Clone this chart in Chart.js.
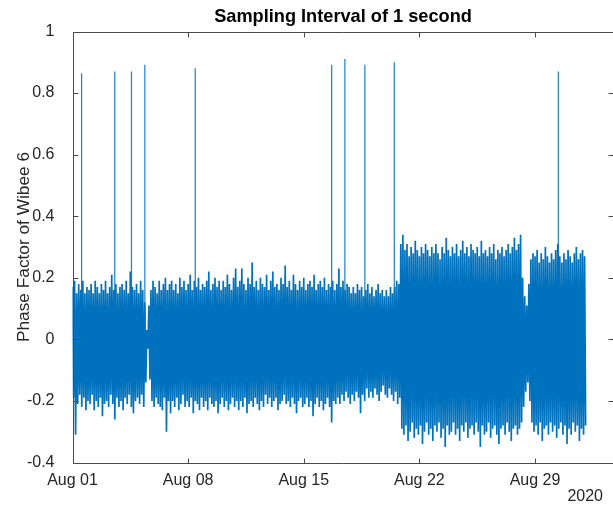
<!DOCTYPE html>
<html>
<head>
<meta charset="utf-8">
<script src="https://cdn.jsdelivr.net/npm/chart.js@4.4.1/dist/chart.umd.min.js"></script>
<style>
html, body { margin: 0; padding: 0; background: #fff; }
canvas { display: block; }
</style>
</head>
<body>
<canvas id="phaseChart" width="613" height="513"></canvas>
<script>
// envelope of the signal in 3-hour bins, starting Aug 01 00:00 (one row per day)
var binHours = 3;
var upperVals = [
  0.17, 0.19, 0.15, 0.18, 0.16, 0.19, 0.15, 0.17,
  0.16, 0.18, 0.15, 0.19, 0.17, 0.15, 0.18, 0.16,
  0.19, 0.15, 0.17, 0.21, 0.16, 0.18, 0.15, 0.17,
  0.18, 0.16, 0.19, 0.15, 0.22, 0.17, 0.16, 0.18,
  0.15, 0.19, 0.16, 0.12, 0.03, 0.11, 0.16, 0.19,
  0.17, 0.15, 0.19, 0.16, 0.18, 0.20, 0.16, 0.18,
  0.19, 0.16, 0.18, 0.15, 0.20, 0.17, 0.19, 0.16,
  0.18, 0.21, 0.16, 0.19, 0.17, 0.20, 0.16, 0.18,
  0.17, 0.19, 0.22, 0.16, 0.18, 0.20, 0.17, 0.19,
  0.16, 0.19, 0.17, 0.21, 0.18, 0.16, 0.20, 0.23,
  0.17, 0.19, 0.23, 0.18, 0.16, 0.20, 0.18, 0.25,
  0.17, 0.19, 0.16, 0.20, 0.18, 0.17, 0.21, 0.16,
  0.19, 0.22, 0.17, 0.18, 0.16, 0.20, 0.18, 0.24,
  0.17, 0.19, 0.16, 0.21, 0.18, 0.16, 0.19, 0.17,
  0.20, 0.16, 0.18, 0.19, 0.17, 0.21, 0.16, 0.18,
  0.19, 0.17, 0.20, 0.16, 0.18, 0.17, 0.19, 0.16,
  0.18, 0.23, 0.17, 0.19, 0.16, 0.18, 0.17, 0.15,
  0.17, 0.15, 0.18, 0.16, 0.17, 0.14, 0.16, 0.18,
  0.15, 0.17, 0.14, 0.16, 0.18, 0.15, 0.16, 0.14,
  0.16, 0.14, 0.17, 0.15, 0.17, 0.19, 0.18, 0.31,
  0.34, 0.29, 0.31, 0.27, 0.30, 0.28, 0.32, 0.29,
  0.27, 0.30, 0.28, 0.31, 0.29, 0.27, 0.30, 0.28,
  0.31, 0.28, 0.26, 0.30, 0.28, 0.33, 0.29, 0.27,
  0.30, 0.28, 0.31, 0.27, 0.29, 0.32, 0.28, 0.30,
  0.27, 0.31, 0.29, 0.28, 0.30, 0.27, 0.32, 0.28,
  0.29, 0.27, 0.30, 0.28, 0.31, 0.26, 0.29, 0.28,
  0.30, 0.27, 0.29, 0.31, 0.28, 0.30, 0.33, 0.29,
  0.31, 0.34, 0.20, 0.14, 0.11, 0.18, 0.26, 0.28,
  0.27, 0.29, 0.25, 0.28, 0.26, 0.30, 0.27, 0.25,
  0.28, 0.26, 0.29, 0.31, 0.27, 0.25, 0.28, 0.26,
  0.29, 0.27, 0.25, 0.28, 0.30, 0.26, 0.28, 0.29,
  0.27
];
var lowerVals = [
  -0.19, -0.31, -0.21, -0.18, -0.22, -0.19, -0.23, -0.20,
  -0.21, -0.18, -0.23, -0.20, -0.22, -0.19, -0.25, -0.21,
  -0.20, -0.22, -0.18, -0.21, -0.26, -0.19, -0.22, -0.20,
  -0.23, -0.19, -0.21, -0.18, -0.22, -0.24, -0.20, -0.19,
  -0.21, -0.18, -0.22, -0.14, -0.03, -0.13, -0.20, -0.22,
  -0.19, -0.21, -0.22, -0.23, -0.19, -0.30, -0.20, -0.24,
  -0.20, -0.22, -0.19, -0.23, -0.21, -0.18, -0.22, -0.20,
  -0.22, -0.19, -0.24, -0.20, -0.21, -0.23, -0.19, -0.22,
  -0.20, -0.23, -0.19, -0.21, -0.22, -0.20, -0.24, -0.21,
  -0.19, -0.22, -0.20, -0.23, -0.21, -0.19, -0.22, -0.20,
  -0.23, -0.20, -0.22, -0.19, -0.24, -0.21, -0.20, -0.22,
  -0.19, -0.21, -0.23, -0.20, -0.22, -0.18, -0.21, -0.19,
  -0.22, -0.20, -0.19, -0.23, -0.21, -0.20, -0.18, -0.21,
  -0.20, -0.22, -0.19, -0.21, -0.24, -0.20, -0.19, -0.22,
  -0.21, -0.19, -0.22, -0.20, -0.25, -0.21, -0.19, -0.22,
  -0.20, -0.23, -0.21, -0.19, -0.22, -0.27, -0.20, -0.21,
  -0.19, -0.21, -0.18, -0.20, -0.17, -0.19, -0.21, -0.18,
  -0.20, -0.17, -0.19, -0.24, -0.18, -0.20, -0.16, -0.19,
  -0.17, -0.19, -0.16, -0.18, -0.20, -0.17, -0.15, -0.18,
  -0.19, -0.16, -0.18, -0.20, -0.17, -0.21, -0.19, -0.29,
  -0.31, -0.28, -0.33, -0.30, -0.27, -0.32, -0.29, -0.31,
  -0.28, -0.34, -0.30, -0.27, -0.31, -0.29, -0.33, -0.28,
  -0.30, -0.27, -0.32, -0.29, -0.35, -0.28, -0.31, -0.30,
  -0.27, -0.31, -0.29, -0.33, -0.28, -0.30, -0.27, -0.32,
  -0.29, -0.28, -0.31, -0.27, -0.30, -0.35, -0.28, -0.31,
  -0.30, -0.27, -0.32, -0.29, -0.28, -0.31, -0.34, -0.29,
  -0.28, -0.31, -0.27, -0.30, -0.33, -0.29, -0.28, -0.31,
  -0.29, -0.27, -0.22, -0.17, -0.14, -0.20, -0.27, -0.30,
  -0.28, -0.31, -0.27, -0.33, -0.29, -0.28, -0.31, -0.27,
  -0.30, -0.28, -0.32, -0.29, -0.27, -0.31, -0.28, -0.34,
  -0.29, -0.31, -0.27, -0.30, -0.28, -0.33, -0.29, -0.31,
  -0.28
];
// single tall spikes (days after Aug 01)
var spikeDays = [0.55, 2.56, 3.57, 4.38, 7.43, 15.69, 16.49, 17.70, 19.48, 29.41];
var spikeVals = [0.864, 0.87, 0.87, 0.892, 0.881, 0.892, 0.911, 0.892, 0.90, 0.87];

var tickDays = [0, 7, 14, 21, 28];
var tickLabels = ['Aug 01', 'Aug 08', 'Aug 15', 'Aug 22', 'Aug 29'];
var yearLabel = '2020';
var titleText = 'Sampling Interval of 1 second';

// zigzag between upper and lower value of each bin
var bandPoints = [];
for (var i = 0; i < upperVals.length; i++) {
  var d = i * binHours / 24;
  bandPoints.push({ x: d, y: upperVals[i] });
  bandPoints.push({ x: d + binHours / 48, y: lowerVals[i] });
}
// spikes as separate thin strokes, broken by nulls
var spikePoints = [];
for (var j = 0; j < spikeDays.length; j++) {
  spikePoints.push({ x: spikeDays[j], y: 0 });
  spikePoints.push({ x: spikeDays[j], y: spikeVals[j] });
  spikePoints.push({ x: spikeDays[j], y: null });
}

var FONT = '"Liberation Sans", Arial, Helvetica, sans-serif';
var TXT = '#262626';

// matlab style box: top/left/bottom lines, ticks pointing inwards, title, year label
var axesBox = {
  id: 'axesBox',
  afterDraw: function (chart) {
    var ctx = chart.ctx, a = chart.chartArea;
    var xs = chart.scales.x, ys = chart.scales.y;
    var L = Math.round(a.left) + 0.5, R = Math.round(a.right) - 0.5;
    var T = Math.round(a.top) + 0.5, B = Math.round(a.bottom) + 0.5;
    ctx.save();
    ctx.strokeStyle = '#4a4a4a';
    ctx.lineWidth = 1;
    ctx.beginPath();
    ctx.moveTo(L, B); ctx.lineTo(L, T); ctx.lineTo(a.right + 2, T);
    ctx.moveTo(L, B); ctx.lineTo(a.right + 2, B);
    tickDays.forEach(function (v) {
      var px = Math.round(xs.getPixelForValue(v)) + 0.5;
      ctx.moveTo(px, B); ctx.lineTo(px, B - 5);
      ctx.moveTo(px, T); ctx.lineTo(px, T + 5);
    });
    ys.ticks.forEach(function (t) {
      var py = Math.round(ys.getPixelForValue(t.value)) + 0.5;
      ctx.moveTo(L, py); ctx.lineTo(L + 5, py);
      ctx.moveTo(R + 1, py); ctx.lineTo(R - 4, py);
    });
    ctx.stroke();
    ctx.fillStyle = '#000';
    ctx.font = 'bold 18.2px ' + FONT;
    ctx.textAlign = 'center';
    ctx.textBaseline = 'middle';
    ctx.fillText(titleText, 343, 17);
    ctx.fillStyle = TXT;
    ctx.font = '16px ' + FONT;
    ctx.textAlign = 'right';
    ctx.fillText(yearLabel, 603, 497);
    ctx.restore();
  }
};

var ctx = document.getElementById('phaseChart').getContext('2d');
var chart_phase = new Chart(ctx, {
  type: 'line',
  data: {
    datasets: [{
      label: 'Phase Factor',
      data: bandPoints,
      borderColor: '#0072BD',
      borderWidth: 1.7,
      pointRadius: 0,
      fill: false,
      tension: 0
    }, {
      label: 'spikes',
      data: spikePoints,
      borderColor: '#1a7fc4',
      borderWidth: 1.2,
      pointRadius: 0,
      fill: false,
      spanGaps: false
    }]
  },
  options: {
    responsive: false,
    animation: false,
    parsing: false,
    events: [],
    layout: { padding: { top: 31.5 } },
    plugins: {
      legend: { display: false },
      tooltip: { enabled: false },
      title: { display: false }
    },
    scales: {
      x: {
        type: 'linear',
        min: 0,
        max: 32.72,
        grid: { display: false },
        border: { display: false },
        afterBuildTicks: function (s) {
          s.ticks = tickDays.map(function (v) { return { value: v }; });
        },
        afterFit: function (s) { s.height = 50.5; },
        ticks: {
          autoSkip: false,
          maxRotation: 0,
          padding: 0,
          color: TXT,
          font: { family: FONT, size: 16 },
          callback: function (v, idx) { return tickLabels[idx]; }
        }
      },
      y: {
        min: -0.4,
        max: 1,
        grid: { display: false },
        border: { display: false },
        afterFit: function (s) { s.width = 72.5; },
        ticks: {
          stepSize: 0.2,
          padding: 10,
          color: TXT,
          font: { family: FONT, size: 16 },
          callback: function (v) {
            var r = Math.round(v * 10) / 10;
            return r === 0 ? '0' : String(r);
          }
        },
        title: {
          display: true,
          text: 'Phase Factor of Wibee 6',
          color: TXT,
          font: { family: FONT, size: 17.3 },
          padding: { top: 14, bottom: 0 }
        }
      }
    }
  },
  plugins: [axesBox]
});
</script>
</body>
</html>
